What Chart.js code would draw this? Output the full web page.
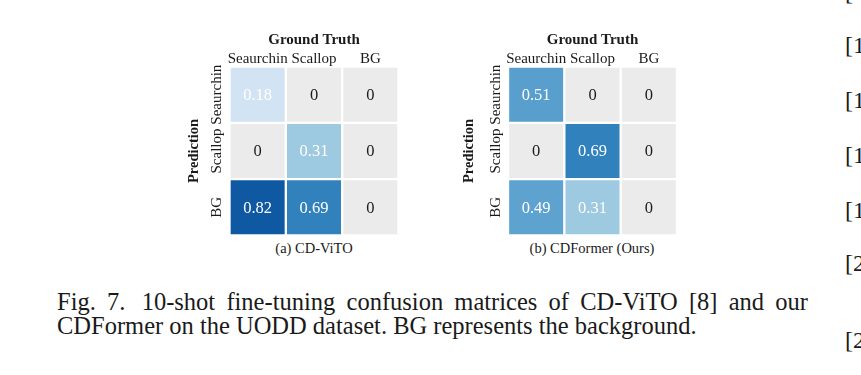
<!DOCTYPE html>
<html>
<head>
<meta charset="utf-8">
<script src="https://cdn.jsdelivr.net/npm/chart.js@4.4.0/dist/chart.umd.min.js"></script>
<style>
  body { margin: 0; background: #fff; width: 861px; height: 375px; overflow: hidden; position: relative;
         font-family: 'Liberation Serif', serif; color: #1a1a1a; }
  canvas { position: absolute; }
  .sub { position: absolute; width: 220px; font-size: 14.5px; line-height: 16px; text-align: center; }
  .cap { position: absolute; left: 57px; font-size: 24.5px; line-height: 24px; white-space: nowrap; }
  .cap1 { width: 751px; text-align: justify; text-align-last: justify; white-space: normal; }
  .ref { position: absolute; left: 845px; font-size: 24px; line-height: 24px; }
</style>
</head>
<body>
<canvas id="cm_a" width="220" height="212" style="left:182px;top:27px"></canvas>
<canvas id="cm_b" width="224" height="212" style="left:457px;top:27px"></canvas>
<div class="sub" style="left:204px;top:240px">(a) CD-ViTO</div>
<div class="sub" style="left:482px;top:240px">(b) CDFormer (Ours)</div>
<div class="cap cap1" style="top:290px">Fig.&nbsp;7.<span style="margin-left:5px"></span> 10-shot fine-tuning confusion matrices of CD-ViTO [8] and our</div>
<div class="cap" style="top:314px">CDFormer on the UODD dataset. BG represents the background.</div>
<div class="ref" style="top:-20px">[</div>
<div class="ref" style="top:33px">[1</div>
<div class="ref" style="top:88px">[1</div>
<div class="ref" style="top:143px">[1</div>
<div class="ref" style="top:198px">[1</div>
<div class="ref" style="top:251px">[2</div>
<div class="ref" style="top:328px">[2</div>
<script>
// ground truth columns / prediction rows
var gt_labels = ['Seaurchin', 'Scallop', 'BG'];
var pred_labels = ['Seaurchin', 'Scallop', 'BG'];

// (a) CD-ViTO, one array per prediction row
var cdvito_seaurchin = [0.18, 0, 0];
var cdvito_scallop = [0, 0.31, 0];
var cdvito_bg = [0.82, 0.69, 0];

// (b) CDFormer
var cdformer_seaurchin = [0.51, 0, 0];
var cdformer_scallop = [0, 0.69, 0];
var cdformer_bg = [0.49, 0.31, 0];

var serif = "'Liberation Serif', 'Times New Roman', serif";
var ink = '#1a1a1a';

// colour stops (blues)
var blues = [
  [0.18, [210, 227, 243]],
  [0.31, [157, 201, 225]],
  [0.50, [90, 161, 207]],
  [0.69, [49, 129, 189]],
  [0.82, [15, 89, 163]]
];

function cell_colour (v) {
  if (v === 0) return '#ebebeb';
  if (v <= blues[0][0]) return 'rgb(' + blues[0][1].join(',') + ')';
  for (var i = 1; i < blues.length; i++) {
    if (v <= blues[i][0]) {
      var a = blues[i - 1], b = blues[i];
      var t = (v - a[0]) / (b[0] - a[0]);
      var c = a[1].map(function (ch, k) { return Math.round(ch + (b[1][k] - ch) * t); });
      return 'rgb(' + c.join(',') + ')';
    }
  }
  return 'rgb(' + blues[blues.length - 1][1].join(',') + ')';
}

var cell_text = {
  id: 'cell_text',
  afterDatasetsDraw: function (chart) {
    var ctx = chart.ctx;
    ctx.save();
    ctx.font = '16.5px ' + serif;
    ctx.textAlign = 'center';
    ctx.textBaseline = 'middle';
    chart.data.datasets.forEach(function (ds, i) {
      chart.getDatasetMeta(i).data.forEach(function (bar, j) {
        var v = ds.values[j];
        var p = bar.getCenterPoint();
        ctx.fillStyle = v > 0 ? '#ffffff' : ink;
        ctx.fillText(v === 0 ? '0' : v.toFixed(2), p.x, p.y + 1);
      });
    });
    ctx.restore();
  }
};

var row_labels = {
  id: 'row_labels',
  afterDraw: function (chart) {
    var ctx = chart.ctx;
    var y_scale = chart.scales.y;
    ctx.save();
    ctx.font = '15px ' + serif;
    ctx.fillStyle = ink;
    ctx.textAlign = 'center';
    ctx.textBaseline = 'middle';
    pred_labels.forEach(function (lab, i) {
      ctx.save();
      ctx.translate(chart.chartArea.left - 12, y_scale.getPixelForValue(i + 0.5));
      ctx.rotate(-Math.PI / 2);
      ctx.fillText(lab, 0, 0);
      ctx.restore();
    });
    ctx.restore();
  }
};

function create_matrix (canvas_id, rows, y_width, pad_right) {
  var ctx = document.getElementById(canvas_id).getContext('2d');

  var datasets = rows.map(function (vals, i) {
    return {
      label: pred_labels[i],
      values: vals,
      data: vals.map(function () { return [i, i + 1]; }),
      backgroundColor: vals.map(cell_colour),
      borderColor: '#ffffff',
      borderWidth: 1.5,
      borderSkipped: false,
      barPercentage: 1,
      categoryPercentage: 1,
      grouped: false
    };
  });

  return new Chart(ctx, {
    type: 'bar',
    data: { labels: gt_labels, datasets: datasets },
    plugins: [cell_text, row_labels],
    options: {
      responsive: false,
      animation: false,
      devicePixelRatio: 1,
      layout: { padding: { left: 0, right: pad_right, top: 0, bottom: 3.5 } },
      plugins: { legend: { display: false }, tooltip: { enabled: false } },
      scales: {
        x: {
          position: 'top',
          grid: { display: false },
          border: { display: false },
          ticks: { padding: -9.5, autoSkip: false, maxRotation: 0, color: ink, font: { family: serif, size: 15 } },
          title: { display: true, text: 'Ground Truth', color: ink, padding: { top: 4.5, bottom: 0 },
                   font: { family: serif, size: 15, weight: 'bold' } },
          afterFit: function (s) { s.height = 39.5; }
        },
        y: {
          min: 0,
          max: 3,
          reverse: true,
          grid: { display: false },
          border: { display: false },
          ticks: { display: false },
          title: { display: true, text: 'Prediction', color: ink, padding: { top: 4, bottom: 0 },
                   font: { family: serif, size: 14.5, weight: 'bold' } },
          afterFit: function (s) { s.width = y_width; }
        }
      }
    }
  });
}

create_matrix('cm_a', [cdvito_seaurchin, cdvito_scallop, cdvito_bg], 47.5, 3.5);
create_matrix('cm_b', [cdformer_seaurchin, cdformer_scallop, cdformer_bg], 51, 4);
</script>
</body>
</html>
